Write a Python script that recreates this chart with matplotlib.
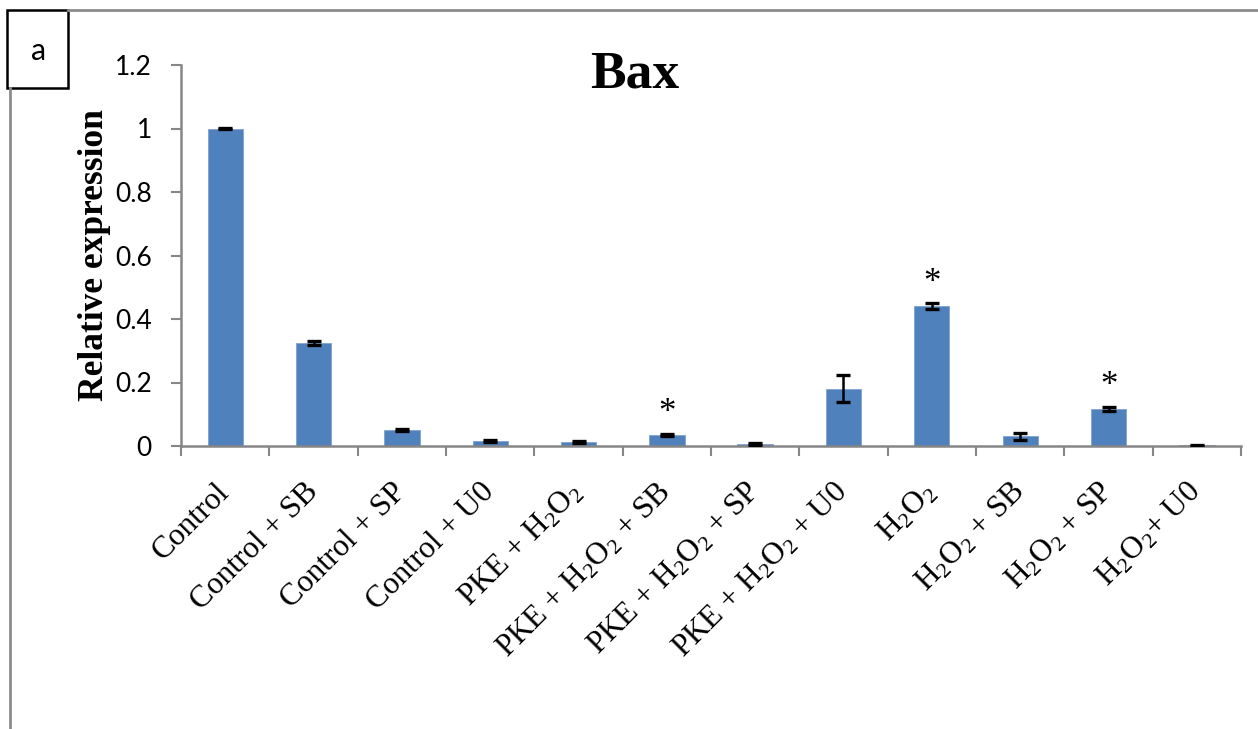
import matplotlib
matplotlib.use("Agg")
import matplotlib.pyplot as plt
from matplotlib.patches import Rectangle
from matplotlib.lines import Line2D

plt.rcParams["mathtext.fontset"] = "custom"
plt.rcParams["mathtext.rm"] = "Liberation Serif"

H2O2 = r"H$\mathregular{_2}$O$\mathregular{_2}$"
categories = [
    "Control",
    "Control + SB",
    "Control + SP",
    "Control + U0",
    "PKE + " + H2O2,
    "PKE + " + H2O2 + " + SB",
    "PKE + " + H2O2 + " + SP",
    "PKE + " + H2O2 + " + U0",
    H2O2,
    H2O2 + " + SB",
    H2O2 + " + SP",
    H2O2 + "+ U0",
]
expression = [1.0, 0.324, 0.051, 0.015, 0.012, 0.035, 0.006, 0.181, 0.441, 0.030, 0.116, 0.002]
errors = [0.002, 0.006, 0.003, 0.003, 0.003, 0.004, 0.002, 0.042, 0.008, 0.010, 0.006, 0.001]
significant = [False, False, False, False, False, True, False, False, True, False, True, False]
yticks = [0, 0.2, 0.4, 0.6, 0.8, 1.0, 1.2]
ytick_labels = ["0", "0.2", "0.4", "0.6", "0.8", "1", "1.2"]

W, H = 1258, 729
fig = plt.figure(figsize=(W / 100, H / 100), dpi=100)
ax = fig.add_axes([181 / W, 1 - 446 / H, (1241 - 181) / W, (446 - 65) / H])

axis_grey = "#868686"
x = list(range(len(categories)))
ax.bar(x, expression, width=0.4, color="#4F81BD", edgecolor="#7FA3D0", linewidth=0.6, zorder=2)
ax.errorbar(x, expression, yerr=errors, fmt="none", ecolor="black",
            elinewidth=1.8, capsize=5, capthick=2.4, zorder=3)

for xi, v, e, s in zip(x, expression, errors, significant):
    if s:
        ax.text(xi, v + e + 0.012, "*", ha="center", va="bottom",
                fontsize=25, family="Liberation Serif")

ax.set_xlim(-0.5, len(categories) - 0.5)
ax.set_ylim(0, 1.2)
ax.set_yticks(yticks)
ax.set_yticklabels(ytick_labels, family="Lato", fontsize=19)

ax.set_xticks(x)
ax.set_xticklabels(categories, rotation=45, ha="right", va="center",
                   rotation_mode="anchor", family="Liberation Serif", fontsize=22.5)
ax.set_xticks([i - 0.5 for i in range(len(categories) + 1)], minor=True)
ax.tick_params(axis="x", which="major", length=0, pad=30)
ax.tick_params(axis="x", which="minor", length=7, width=1.5, color=axis_grey, direction="out")
ax.tick_params(axis="y", which="major", length=7, width=1.5, color=axis_grey, pad=14)

for side in ["top", "right"]:
    ax.spines[side].set_visible(False)
for side in ["left", "bottom"]:
    ax.spines[side].set_color(axis_grey)
    ax.spines[side].set_linewidth(1.8)

ax.set_ylabel("Relative expression", family="Liberation Serif", fontweight="bold",
              fontsize=25.5, labelpad=2.5)
ax.set_title("Bax", family="Liberation Serif", fontweight="bold", fontsize=38.5,
             x=0.428, y=1.0, pad=-16)

# Panel frame and corner label
fig.add_artist(Line2D([68 / W, 1.0], [1 - 10 / H, 1 - 10 / H], color="#8c8c8c", lw=2,
                      transform=fig.transFigure))
fig.add_artist(Line2D([10 / W, 10 / W], [1 - 88 / H, 0], color="#8c8c8c", lw=2,
                      transform=fig.transFigure))
fig.add_artist(Rectangle((7 / W, 1 - 88 / H), 61 / W, 78 / H, fill=False, edgecolor="black",
                         lw=1.8, transform=fig.transFigure))
fig.text(39 / W, 1 - 51 / H, "a", ha="center", va="center", family="Lato", fontsize=22)

fig.savefig("out.png", dpi=100)
